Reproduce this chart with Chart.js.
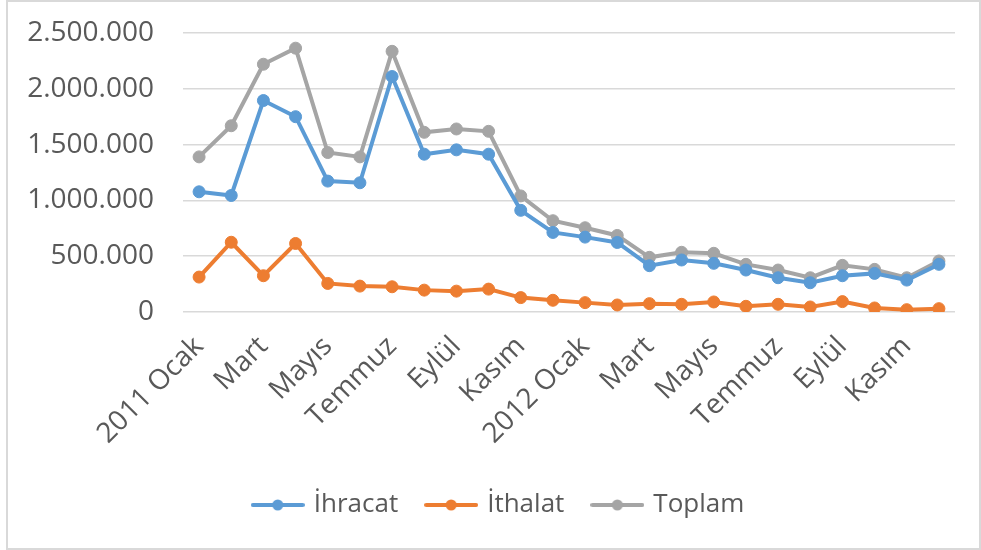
<!DOCTYPE html>
<html>
<head>
<meta charset="utf-8">
<script src="https://cdn.jsdelivr.net/npm/chart.js@4/dist/chart.umd.min.js"></script>
<style>
  html, body { margin: 0; padding: 0; background: #fff; }
  #frame { position: absolute; left: 6px; top: 0; width: 971px; height: 546px; border: 2px solid #d9d9d9; }
  #wrap { position: absolute; left: 0; top: 0; width: 981px; height: 550px; }
</style>
</head>
<body>
<div id="frame"></div>
<div id="wrap"><canvas id="c" width="981" height="550"></canvas></div>
<script>
const categories = [
  "2011 Ocak","Şubat","Mart","Nisan","Mayıs","Haziran","Temmuz","Ağustos","Eylül","Ekim","Kasım","Aralık",
  "2012 Ocak","Şubat","Mart","Nisan","Mayıs","Haziran","Temmuz","Ağustos","Eylül","Ekim","Kasım","Aralık"
];
const ihracat = [1077000,1044000,1895000,1750000,1173000,1158000,2110000,1414000,1453000,1414000,911000,713000,
                 671000,623000,415000,466000,436000,376000,307000,262000,325000,346000,286000,427000];
const ithalat = [313000,625000,325000,614000,256000,232000,226000,196000,187000,205000,129000,105000,
                 84000,63000,75000,69000,90000,51000,69000,45000,93000,36000,21000,30000];
const toplam  = [1390000,1669000,2220000,2364000,1429000,1390000,2336000,1610000,1640000,1619000,1040000,818000,
                 755000,686000,490000,535000,526000,427000,376000,307000,418000,382000,307000,457000];
const yTicks = [0, 500000, 1000000, 1500000, 2000000, 2500000];

const colors = { ihracat: "#5b9bd5", ithalat: "#ed7d31", toplam: "#a5a5a5" };
const FONT = "'Open Sans', 'Noto Sans', sans-serif";

function legendIcon(color) {
  const cv = document.createElement("canvas");
  cv.width = 54; cv.height = 14;
  const g = cv.getContext("2d");
  g.strokeStyle = color; g.lineWidth = 4; g.lineCap = "round";
  g.beginPath(); g.moveTo(2, 7); g.lineTo(52, 7); g.stroke();
  g.fillStyle = color; g.beginPath(); g.arc(27, 7, 5.5, 0, Math.PI * 2); g.fill();
  return cv;
}

function ds(label, data, color) {
  return {
    label, data,
    borderColor: color, backgroundColor: color,
    pointBackgroundColor: color, pointBorderColor: color,
    borderWidth: 4, pointRadius: 6, pointBorderWidth: 1, pointHoverRadius: 6,
    tension: 0, pointStyle: "circle", _icon: legendIcon(color)
  };
}

const datasets = [ds("İhracat", ihracat, colors.ihracat), ds("İthalat", ithalat, colors.ithalat), ds("Toplam", toplam, colors.toplam)];

const legendShift = {
  id: "legendShift",
  afterLayout(chart) {
    if (chart.legend) { chart.legend.left += 22; chart.legend.right += 22; }
  }
};

new Chart(document.getElementById("c"), {
  type: "line",
  data: { labels: categories, datasets },
  plugins: [legendShift],
  options: {
    responsive: false,
    animation: false,
    devicePixelRatio: 1,
    layout: { padding: { left: 0, right: 26, top: 33, bottom: 22 } },
    plugins: {
      tooltip: { enabled: false },
      legend: {
        position: "bottom",
        labels: {
          font: { family: FONT, size: 26 },
          color: "#595959",
          usePointStyle: true,
          pointStyleWidth: 46,
          padding: 30,
          generateLabels(chart) {
            return chart.data.datasets.map((d, i) => ({
              text: d.label, pointStyle: d._icon, fillStyle: d.borderColor,
              strokeStyle: d.borderColor, lineWidth: 0, hidden: false, datasetIndex: i, fontColor: "#595959"
            }));
          }
        }
      }
    },
    scales: {
      x: {
        offset: true,
        grid: { display: false },
        border: { display: false },
        ticks: {
          autoSkip: false, maxRotation: 45, minRotation: 45,
          padding: 10,
          color: "#595959",
          font: { family: FONT, size: 28 },
          callback(v, i) { return i % 2 === 0 ? categories[i] : ""; }
        },
        afterFit(s) { s.height = 150; }
      },
      y: {
        min: 0, max: 2500000,
        afterBuildTicks(s) { s.ticks = yTicks.map(v => ({ value: v })); },
        grid: { color: "#d9d9d9", lineWidth: 1.5, drawTicks: false },
        border: { display: false },
        ticks: {
          padding: 29,
          color: "#595959",
          font: { family: FONT, size: 28 },
          callback(v) { return v.toLocaleString("de-DE"); }
        },
        afterFit(s) { s.width = 183; s.paddingTop = 0; s.paddingBottom = 0; }
      }
    }
  }
});
</script>
</body>
</html>
